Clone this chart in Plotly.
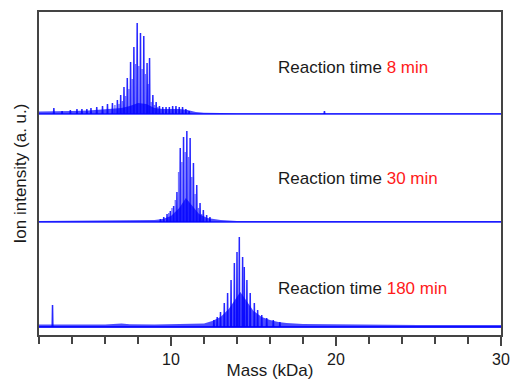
import plotly.graph_objects as go

# ---- data ----
# spectrum 1: reaction time 8 min
t8_peak_mass = [2.9, 3.4, 3.9, 4.3, 4.6, 4.9, 5.15, 5.5, 5.85, 6.15, 6.45, 6.75, 6.95, 7.15, 7.35, 7.55,
                7.75, 7.95, 8.15, 8.35, 8.55, 8.7, 8.9, 9.1, 9.3, 9.5, 9.7, 9.9, 10.1, 10.3, 10.5, 10.7, 10.9, 11.1,
                19.3]
t8_peak_int = [6, 3, 4, 5, 5, 5, 6, 7, 8, 10, 11, 14, 19, 27, 36, 52,
               67, 91, 81, 78, 51, 56, 19, 12, 8, 7, 7, 7, 8, 8, 7, 7, 5, 3,
               3]
t8_sub_mass = [6.6, 6.85, 7.05, 7.25, 7.45, 7.65, 7.85, 8.05, 8.25, 8.45, 8.62, 8.8, 9.0, 9.2]
t8_sub_int = [9, 10, 13, 18, 25, 35, 50, 48, 45, 40, 30, 12, 9, 7]
t8_band_mass = [2, 3, 4, 5, 6, 7, 7.5, 8, 8.5, 9, 9.5, 10, 10.5, 11, 11.5, 12, 14, 30]
t8_band_int = [2.5, 2.5, 3, 3.5, 4.5, 6, 8, 11, 10, 6, 5, 5, 5, 4, 2, 1.2, 0.8, 0.8]

# spectrum 2: reaction time 30 min
t30_peak_mass = [9.36, 9.56, 9.76, 9.96, 10.16, 10.36, 10.56, 10.76, 10.96, 11.16, 11.36, 11.56, 11.76,
                 11.96, 12.16, 12.36]
t30_peak_int = [3, 5, 8, 11, 16, 30, 74, 85, 91, 84, 59, 37, 19, 12, 7, 5]
t30_sub_mass = [9.86, 10.06, 10.26, 10.46, 10.66, 10.86, 11.06, 11.26, 11.46, 11.66, 11.86]
t30_sub_int = [9, 14, 22, 50, 60, 70, 65, 45, 28, 14, 8]
t30_band_mass = [2, 6, 9, 9.5, 10, 10.5, 10.9, 11.3, 11.7, 12.2, 13, 14, 30]
t30_band_int = [1, 1.2, 2, 3, 6, 14, 24, 16, 8, 4, 2, 1, 1]

# spectrum 3: reaction time 180 min
t180_peak_mass = [2.82, 12.6, 12.8, 13.0, 13.23, 13.43, 13.64, 13.84, 14.0, 14.14, 14.34, 14.44, 14.6, 14.8,
                  15.05, 15.25, 15.5, 15.8, 16.2, 16.6]
t180_peak_int = [22, 7, 10, 15, 24, 34, 47, 64, 75, 90, 70, 60, 47, 34, 24, 17, 12, 9, 7, 5]
t180_band_mass = [2, 6, 7, 7.5, 9, 11, 12, 12.5, 13, 13.5, 14, 14.2, 14.5, 15, 15.5, 16, 16.5, 17, 18, 19, 20, 25, 30]
t180_band_int = [2.5, 2.5, 3.5, 2.8, 2.5, 2.8, 3.5, 6, 10, 18, 30, 35, 28, 16, 10, 7, 5, 4, 3, 2.8, 2.5, 2, 2]

labels = ["8 min", "30 min", "180 min"]

# ---- styling / layout ----
offsets = [221, 113, 8]
label_y = [267.7, 156.7, 46.7]
blue = "rgba(0,0,255,0.85)"
fig = go.Figure()

spectra = [
    (t8_peak_mass, t8_peak_int, t8_sub_mass, t8_sub_int, t8_band_mass, t8_band_int, 1.6),
    (t30_peak_mass, t30_peak_int, t30_sub_mass, t30_sub_int, t30_band_mass, t30_band_int, 1.3),
    (t180_peak_mass, t180_peak_int, [], [], t180_band_mass, t180_band_int, 2.2),
]

for (pm, pi, sm, si, bm, bi, lw), off in zip(spectra, offsets):
    # dense envelope band
    bx = list(bm) + list(bm[::-1])
    by = [off + v for v in bi] + [off] * len(bm)
    fig.add_trace(go.Scatter(x=bx, y=by, fill="toself", fillcolor="rgba(0,0,255,0.7)",
                             line=dict(width=0), mode="lines", hoverinfo="skip", showlegend=False))
    # baseline
    fig.add_trace(go.Scatter(x=[2, 30], y=[off, off], mode="lines",
                             line=dict(color=blue, width=lw), showlegend=False))
    # secondary spikes
    sx, sy = [], []
    for m, h in zip(sm, si):
        sx += [m, m, None]
        sy += [off, off + h, None]
    if sx:
        fig.add_trace(go.Scatter(x=sx, y=sy, mode="lines",
                                 line=dict(color="rgba(0,0,255,0.55)", width=1.4), showlegend=False))
    # main spikes
    px, py = [], []
    for m, h in zip(pm, pi):
        px += [m - 0.02, m, m + 0.02, None]
        py += [off, off + h, off, None]
    fig.add_trace(go.Scatter(x=px, y=py, mode="lines",
                             line=dict(color=blue, width=1.5), showlegend=False))

for lab, ly in zip(labels, label_y):
    fig.add_annotation(x=16.35, y=ly, xanchor="left", yanchor="middle", showarrow=False,
                       text="Reaction time <span style='color:#ff1a1a'>" + lab + "</span>",
                       font=dict(family="Liberation Sans, Arial, sans-serif", size=17, color="#1a1a1a"))

axis_color = "#444444"
fig.update_layout(
    width=513, height=380,
    margin=dict(l=39, r=12, t=12, b=45),
    paper_bgcolor="white", plot_bgcolor="white",
    font=dict(family="Liberation Sans, Arial, sans-serif", size=16, color="#1a1a1a"),
    showlegend=False,
    xaxis=dict(range=[2, 30], tick0=0, dtick=10, ticks="outside", ticklen=9, tickwidth=1.5,
               tickcolor=axis_color, showline=True, linecolor=axis_color, linewidth=1.8, mirror=True,
               showgrid=False, zeroline=False, automargin=False,
               minor=dict(dtick=2, tick0=0, ticks="outside", ticklen=7, tickwidth=1.5, tickcolor=axis_color),
               tickfont=dict(size=16),
               title=dict(text="Mass (kDa)", font=dict(size=17), standoff=6)),
    yaxis=dict(range=[0, 323], showticklabels=False, ticks="", showline=True, linecolor=axis_color,
               linewidth=1.8, mirror=True, showgrid=False, zeroline=False, automargin=False,
               title=dict(text="Ion intensity (a. u.)", font=dict(size=17), standoff=6)),
)

fig.write_html("out.html", config={"displayModeBar": False},
               post_script="document.body.style.margin='0';document.body.style.overflow='hidden';")
